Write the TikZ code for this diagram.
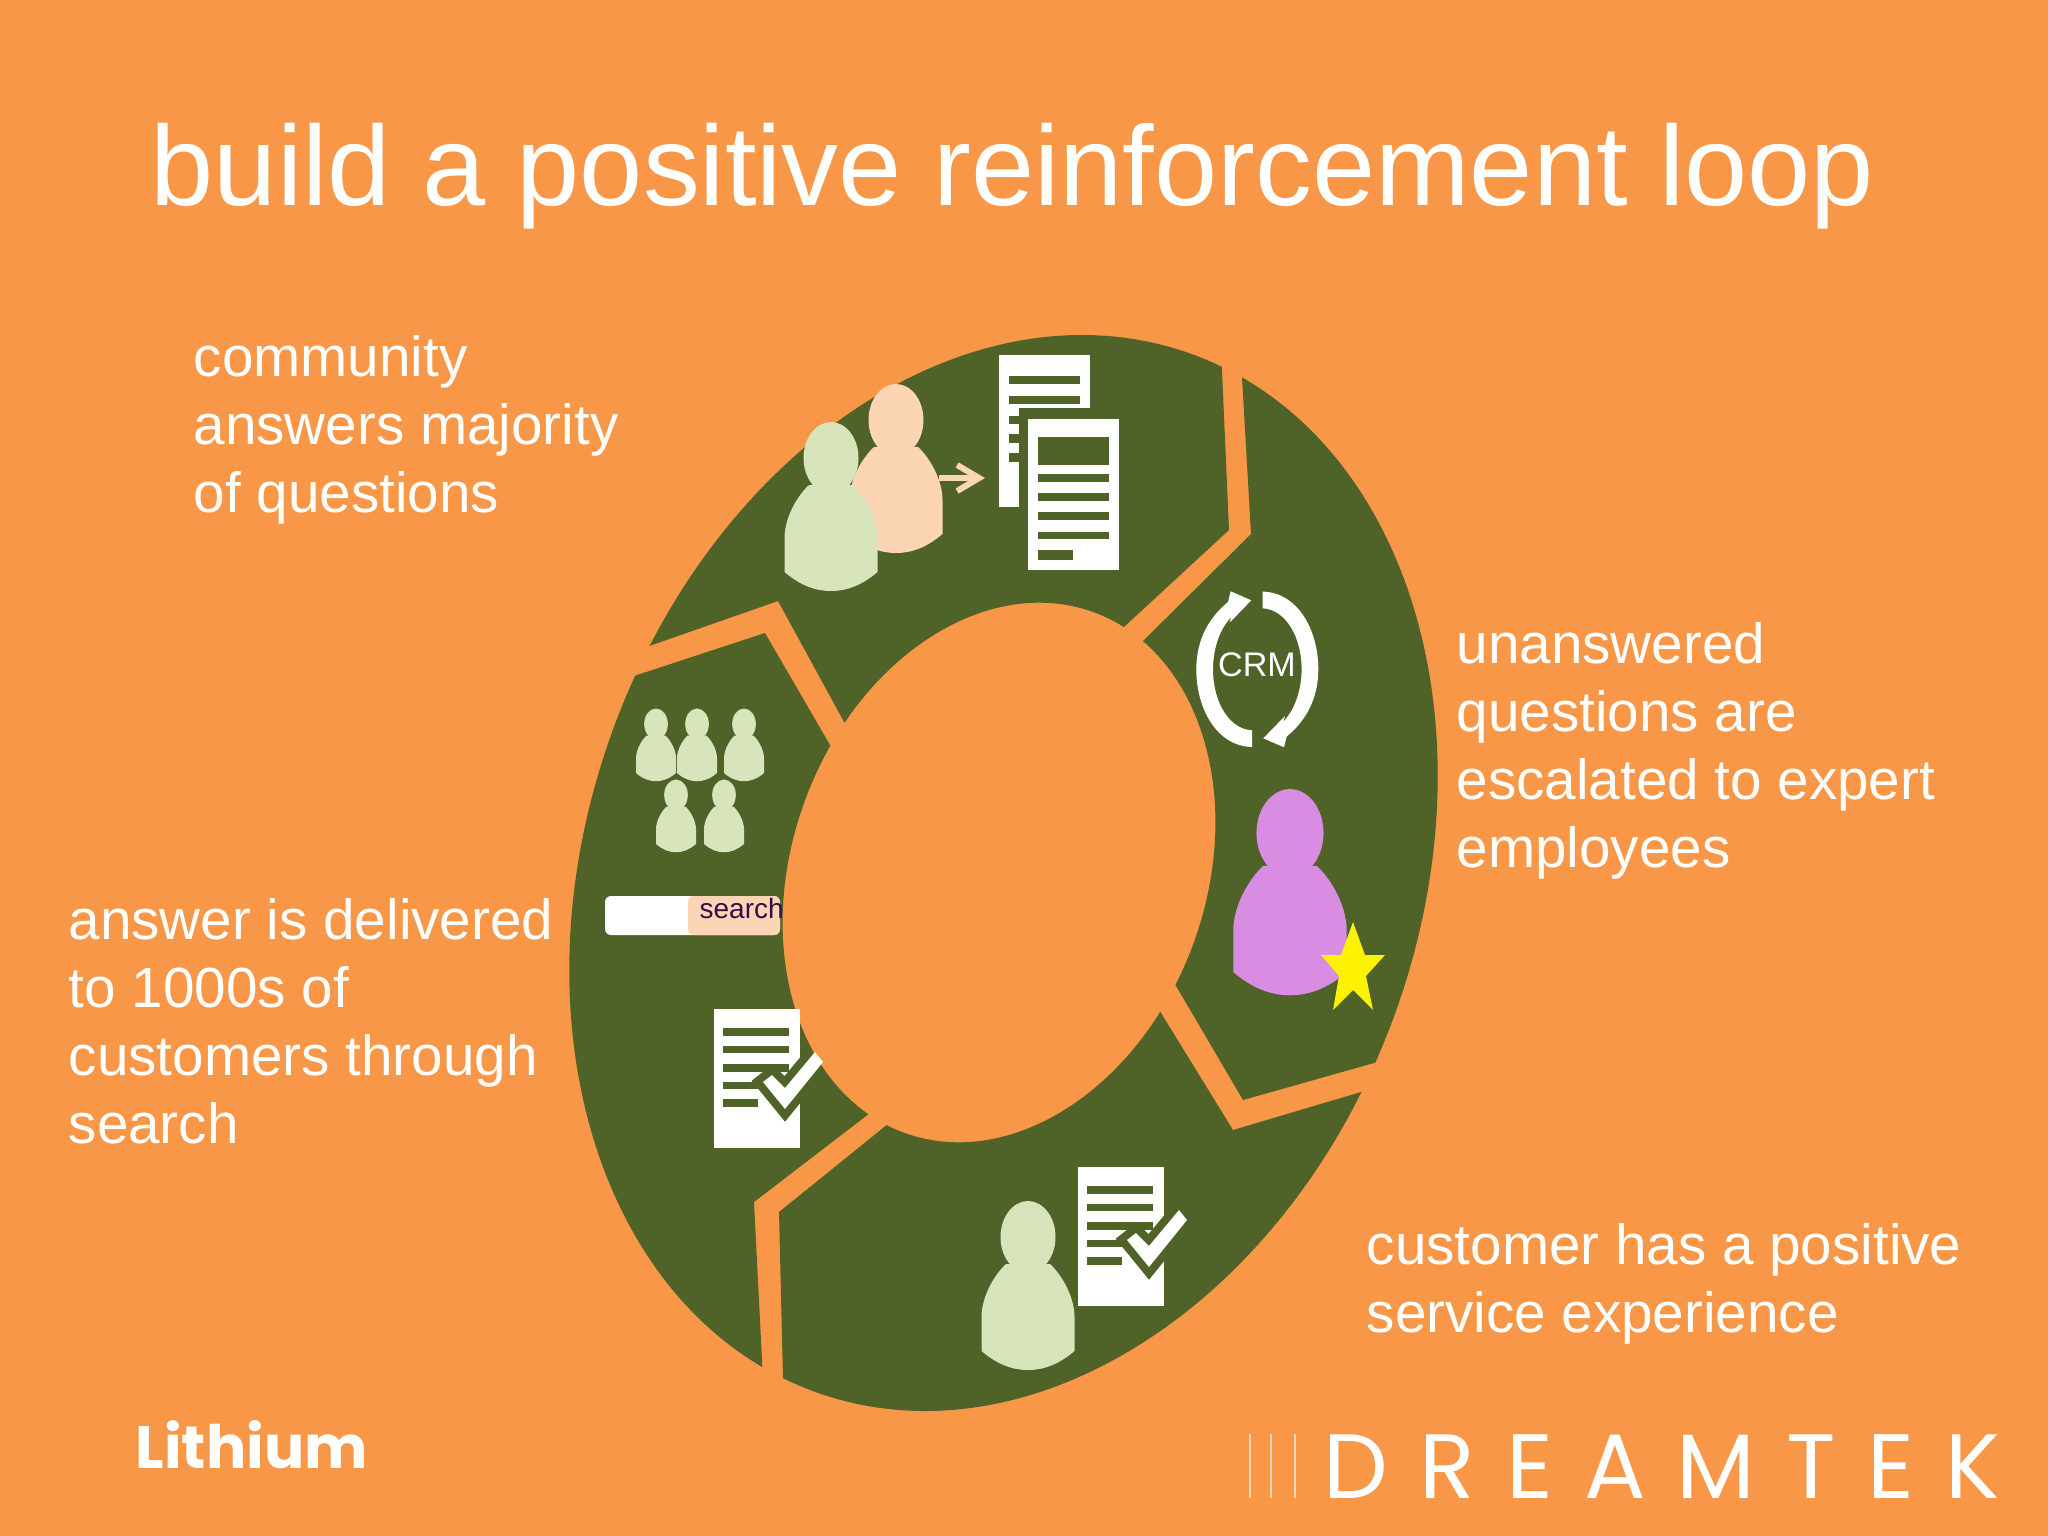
\documentclass[tikz,border=0pt]{standalone}
\usepackage{amsmath}
\usepackage{xcolor}
\usepackage{fontspec}
\setmainfont{Liberation Sans}
\newfontfamily\logofont{Poppins}
\usetikzlibrary{arrows.meta}
\usetikzlibrary{positioning}
\definecolor{loopbg}{HTML}{F89747}
\definecolor{ringgreen}{HTML}{4F6228}
\definecolor{palegreen}{HTML}{D7E4BC}
\definecolor{peach}{HTML}{FCD5B4}
\definecolor{orchid}{HTML}{D88CE2}
\definecolor{searchink}{HTML}{3A0B4A}
\tikzset{
	ringseg/.style={fill=ringgreen, even odd rule},
	sheet/.style={fill=white},
	sheetline/.style={fill=ringgreen},
	bodytext/.style={text=white, align=left, anchor=north west, inner sep=0pt, font=\fontsize{16.1}{19.35}\selectfont},
	person/.pic={
		\fill[pic actions] (0,0) ellipse [x radius=27.5, y radius=36];
		\fill[pic actions] (-46.5,114) -- (-46.5,80) .. controls (-46.5,60) and (-34,38) .. (-22,27) -- (22,27) .. controls (34,38) and (46.5,60) .. (46.5,80) -- (46.5,114) .. controls (30,128) and (15,133) .. (0,133) .. controls (-15,133) and (-30,128) .. (-46.5,114) -- cycle;
	},
	checksheet/.pic={
		\fill[sheet] (0,0) rectangle (86,139);
		\fill[sheetline] (9,19) rectangle (75,27);
		\fill[sheetline] (9,37) rectangle (75,44);
		\fill[sheetline] (9,55) rectangle (75,63);
		\fill[sheetline] (9,73) rectangle (44,80);
		\fill[sheetline] (9,90) rectangle (44,98);
		\begin{scope}
			\clip (0,0) rectangle (86,139);
			\draw[ringgreen, line width=1.6mm, line join=miter] (49,73) -- (58,66) -- (71,79) -- (101,43) -- (109,53) -- (71,100) -- cycle;
		\end{scope}
		\fill[white] (49,73) -- (58,66) -- (71,79) -- (101,43) -- (109,53) -- (71,100) -- cycle;
	},
	crmarc/.pic={
		\fill[white] (5.3,-77.7) .. controls (40,-77) and (61,-40) .. (61,0) .. controls (61,30) and (48,52) .. (29.3,67.3) -- (26.7,78) -- (6,69) -- (27.7,46.7) -- (26,52.3) .. controls (38,40) and (44.3,20) .. (44.3,0) .. controls (44.3,-33) and (28,-60) .. (5.3,-61) -- cycle;
	},
}

\begin{document}
\begin{tikzpicture}[x=0.01cm, y=-0.01cm]
	\useasboundingbox (0,0) rectangle (2048,1536);
	\fill[loopbg] (0,0) rectangle (2048,1536);
	% ring
	\begin{scope}
		\clip (492,701) -- (778,601) -- (908,839) -- (1021,722) -- (1229,530) -- (1215,210) -- (492,210) -- cycle;
		\fill[ringseg] (1003.5,873) ellipse [x radius=552, y radius=416, rotate=70] (999,872.5) ellipse [x radius=277, y radius=207, rotate=70];
	\end{scope}
	\begin{scope}
		\clip (1233,220) -- (1251,534) -- (1029,754) -- (1115,882) -- (1243,1100) -- (1505,1026) -- (1650,900) -- (1650,220) -- cycle;
		\fill[ringseg] (1003.5,873) ellipse [x radius=552, y radius=416, rotate=70] (999,872.5) ellipse [x radius=277, y radius=207, rotate=70];
	\end{scope}
	\begin{scope}
		\clip (1489,1054) -- (1233,1130) -- (1089,896) -- (987,1044) -- (779,1212) -- (787,1546) -- (1489,1546) -- cycle;
		\fill[ringseg] (1003.5,873) ellipse [x radius=552, y radius=416, rotate=70] (999,872.5) ellipse [x radius=277, y radius=207, rotate=70];
	\end{scope}
	\begin{scope}
		\clip (497,721) -- (765,633) -- (895,857) -- (986,1024) -- (754,1202) -- (770,1518) -- (400,1518) -- (400,721) -- cycle;
		\fill[ringseg] (1003.5,873) ellipse [x radius=552, y radius=416, rotate=70] (999,872.5) ellipse [x radius=277, y radius=207, rotate=70];
	\end{scope}
	% title and texts
	\node[text=white, anchor=base west, inner sep=0pt, font=\fontsize{32.3}{40}\selectfont] (title) at (150,205) {build a positive reinforcement loop};
	\node[bodytext] (txtcommunity) at (193,335) {community\\answers majority\\of questions};
	\node[bodytext] (txtdelivered) at (68,898) {answer is delivered\\to 1000s of\\customers through\\search};
	\node[bodytext] (txtescalated) at (1456,622) {unanswered\\questions are\\escalated to expert\\employees};
	\node[bodytext] (txtpositive) at (1366,1223) {customer has a positive\\service experience};
	% community answers
	\pic[fill=peach] (ppeach) at (896,420) {person};
	\pic[fill=palegreen] (pgreen) at (831,458) {person};
	\coordinate (arrowfrom) at (939,478);
	\coordinate (arrowto) at (985,478);
	\draw[peach, line width=0.6mm, -{Straight Barb[length=2.2mm, width=2.6mm]}] (arrowfrom) -- (arrowto);
	\fill[sheet] (999,355) rectangle (1090,507);
	\fill[sheetline] (1009,376) rectangle (1080,384);
	\fill[sheetline] (1009,396) rectangle (1080,404);
	\fill[sheetline] (1009,416) rectangle (1080,424);
	\fill[sheetline] (1009,434) rectangle (1080,443);
	\fill[sheetline] (1009,453) rectangle (1080,462);
	\fill[ringgreen] (1019,408) rectangle (1119,570);
	\fill[sheet] (1028,419) rectangle (1119,570);
	\fill[sheetline] (1038,437) rectangle (1109,465);
	\fill[sheetline] (1038,474) rectangle (1109,482);
	\fill[sheetline] (1038,493) rectangle (1109,501);
	\fill[sheetline] (1038,512) rectangle (1109,520);
	\fill[sheetline] (1038,532) rectangle (1109,539);
	\fill[sheetline] (1038,550) rectangle (1073,560);
	% crm and expert
	\pic (crmright) at (1257.3,669.3) {crmarc};
	\pic[rotate=180] (crmleft) at (1257.3,669.3) {crmarc};
	\node[text=white, inner sep=0pt, font=\fontsize{9.7}{11}\selectfont] (crm) at (1257,665) {CRM};
	\pic[scale=1.22, fill=orchid] (pexpert) at (1290,833) {person};
	\fill[yellow] (1353,922) -- (1365,955) -- (1385,955) -- (1366,976) -- (1373,1010) -- (1353,990) -- (1333,1010) -- (1339,976) -- (1321,955) -- (1341,955) -- cycle;
	% positive experience
	\pic[fill=palegreen] (pcustomer) at (1028,1237) {person};
	\pic (sheetcustomer) at (1078,1167) {checksheet};
	% delivered through search
	\pic[scale=0.43, fill=palegreen] (pa) at (656,724) {person};
	\pic[scale=0.43, fill=palegreen] (pb) at (697,724) {person};
	\pic[scale=0.43, fill=palegreen] (pc) at (744,724) {person};
	\pic[scale=0.43, fill=palegreen] (pd) at (676,795) {person};
	\pic[scale=0.43, fill=palegreen] (pe) at (724,795) {person};
	\fill[white, rounded corners=0.6mm] (605,896) rectangle (780,935);
	\fill[peach, rounded corners=0.6mm] (688,896) rectangle (780,935);
	\node[text=searchink, anchor=base west, inner sep=0pt, font=\fontsize{7.95}{9}\selectfont] (search) at (699,918) {search};
	\pic (sheetsearch) at (714,1009) {checksheet};
	% logos
	\node[text=white, anchor=base west, inner sep=0pt, font=\logofont\bfseries\fontsize{17}{20}\selectfont] (lithium) at (135,1468) {Lithium};
	\draw[peach, line width=0.25mm] (1250,1434) -- (1250,1498);
	\draw[peach, line width=0.25mm] (1271,1434) -- (1271,1498);
	\draw[peach, line width=0.25mm] (1295,1434) -- (1295,1498);
	\node[text=white, anchor=base west, inner sep=0pt, font=\logofont\fontsize{26}{30}\selectfont] (dreamtek) at (1323,1498) {\addfontfeature{LetterSpace=34}DREAMTEK};
\end{tikzpicture}
\end{document}
